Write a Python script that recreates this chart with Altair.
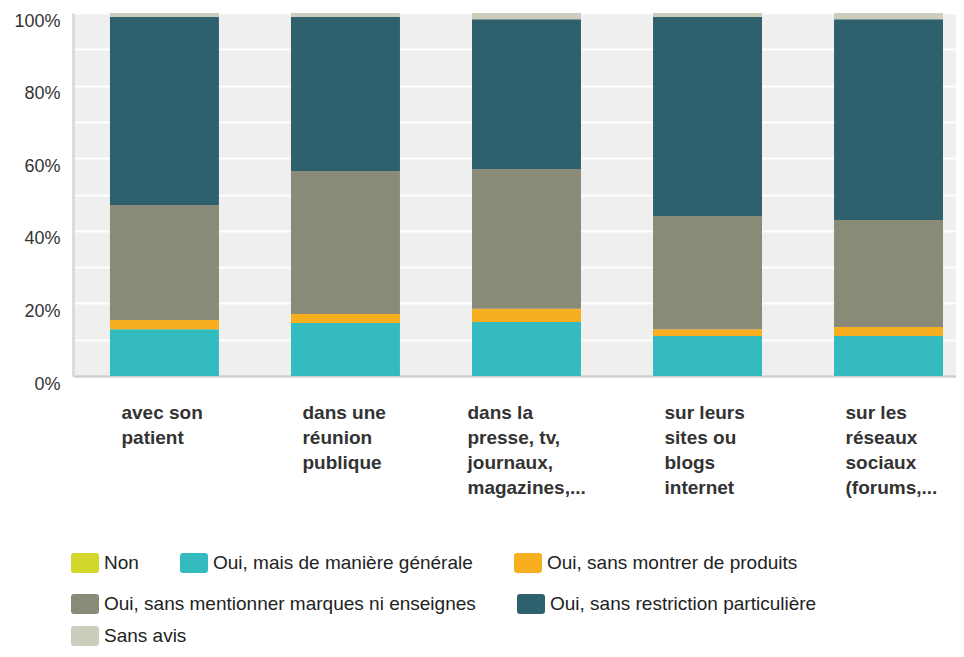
import altair as alt
import pandas as pd

categories = [
    "avec son\npatient",
    "dans une\nréunion\npublique",
    "dans la\npresse, tv,\njournaux,\nmagazines,...",
    "sur leurs\nsites ou\nblogs\ninternet",
    "sur les\nréseaux\nsociaux\n(forums,...",
]
responses = [
    "Non",
    "Oui, mais de manière générale",
    "Oui, sans montrer de produits",
    "Oui, sans mentionner marques ni enseignes",
    "Oui, sans restriction particulière",
    "Sans avis",
]
colors = ["#d3d72b", "#33bbbf", "#f7ae1f", "#8a8a78", "#2e606d", "#cdcdbd"]

non = [0, 0, 0, 0, 0]
oui_generale = [12.9, 14.6, 14.9, 11.0, 11.0]
oui_produits = [2.5, 2.5, 3.6, 1.9, 2.5]
oui_marques = [31.7, 39.4, 38.5, 31.2, 29.5]
oui_restriction = [51.8, 42.4, 41.3, 54.8, 55.3]
sans_avis = [1.1, 1.1, 1.7, 1.1, 1.7]

series = [non, oui_generale, oui_produits, oui_marques, oui_restriction, sans_avis]
rows = []
for ri, (resp, vals) in enumerate(zip(responses, series)):
    for cat, v in zip(categories, vals):
        rows.append({"category": cat, "response": resp, "value": v, "order": ri})
df = pd.DataFrame(rows)

FONT = "Liberation Sans"

x_axis = alt.Axis(
    title=None, labelExpr="split(datum.label, '\\n')", labelAlign="left",
    labelOffset={"condition": {"test": "indexof(datum.value, 'magazines') >= 0", "value": -59},
                 "value": -43},
    labelBaseline="top", labelPadding=27, labelFontSize=19,
    labelFontWeight="bold", labelColor="#333333", labelLineHeight=25, ticks=False,
    domainColor="#cfcfcf", domainWidth=2.5, labelLimit=400, labelAngle=0, labelFont=FONT,
)
y_axis = alt.Axis(
    title=None, values=list(range(0, 101, 10)),
    labelExpr="datum.value % 20 == 0 ? datum.value + '%' : ''",
    grid=True, gridColor="white", gridWidth=2, ticks=False,
    domainColor="#dcdcdc", domainWidth=3, labelFontSize=18, labelColor="#333333",
    labelPadding=13, labelOffset=8, labelFlush=False, labelOverlap=False,
    labelBound=False, labelFont=FONT,
)

swatch = ("M-1.1,-1 H1.1 Q1.4,-1 1.4,-0.7 V0.7 Q1.4,1 1.1,1 H-1.1 "
          "Q-1.4,1 -1.4,0.7 V-0.7 Q-1.4,-1 -1.1,-1 Z")

legend_rows = [([0, 1, 2], 540), ([3, 4], 581), ([5], 613)]


def row_layer(idx, ly):
    dom = [responses[i] for i in idx]
    rng = [colors[i] for i in idx]
    return (
        alt.Chart(df)
        .transform_filter(alt.FieldOneOfPredicate(field="response", oneOf=dom))
        .mark_bar()
        .encode(
            x=alt.X("category:N", sort=categories,
                    scale=alt.Scale(paddingInner=0.398, paddingOuter=0.138, align=0.74),
                    axis=x_axis),
            y=alt.Y("y0:Q", scale=alt.Scale(domain=[0, 100]), axis=y_axis),
            y2="y1:Q",
            color=alt.Color(
                "response:N", scale=alt.Scale(domain=dom, range=rng),
                legend=alt.Legend(
                    title=None, orient="none", legendX=2, legendY=ly,
                    direction="horizontal", symbolType=swatch, symbolSize=400,
                    symbolStrokeWidth=0, symbolOpacity=1, labelFontSize=19,
                    labelColor="#222222", labelFont=FONT, labelOffset=9,
                    columnPadding=41, labelLimit=500,
                ),
            ),
        )
    )


chart = (
    alt.layer(*[row_layer(idx, ly) for idx, ly in legend_rows])
    .transform_stack(stack="value", groupby=["category"], as_=["y0", "y1"],
                     sort=[alt.SortField("order", order="ascending")])
    .resolve_scale(color="independent")
    .properties(
        width=883, height=363,
        padding={"left": 65, "top": 5, "right": 0, "bottom": 273},
        autosize=alt.AutoSizeParams(type="none"),
    )
    .configure_view(fill="#efefef", strokeWidth=0)
)

chart.save("out.html", embed_options={"renderer": "svg", "actions": False})
